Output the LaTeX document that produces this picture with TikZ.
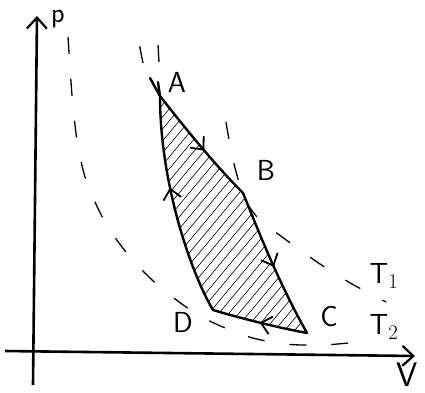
\documentclass[tikz,border=0pt]{standalone}
\usepackage{tikz}
\usetikzlibrary{positioning,calc}
\usetikzlibrary{arrows.meta,decorations.markings}
\tikzset{
  axis/.style={draw=black,line width=2.6pt,-{Straight Barb[length=11pt,width=20pt,line width=2.2pt]}},
  cyc/.style={draw=black,line width=2.4pt,line cap=round},
  iso/.style={draw=black,line width=1.3pt,dash pattern=on 17pt off 25pt},
  hatch/.style={draw=black,line width=0.6pt},
  lab/.style={inner sep=0pt,font=\sffamily\fontsize{29}{33}\selectfont},
  midarrow/.style={postaction={decorate,decoration={markings,
    mark=at position #1 with {\arrow{Straight Barb[length=10pt,width=18pt,line width=1.8pt]}}}}},
}
\begin{document}
\begin{tikzpicture}[x=1pt,y=-1pt]
\useasboundingbox (0,0) rectangle (425,392);
% axes
\coordinate (o1) at (33,385);
\coordinate (o2) at (37,16);
\coordinate (o3) at (5,351);
\coordinate (o4) at (415,356);
\draw[axis] (o1) -- (o2);
\draw[axis] (o3) -- (o4);
% corners of the cycle
\coordinate (A) at (160,96);
\coordinate (B) at (243,193);
\coordinate (C) at (307,333);
\coordinate (D) at (213,310);
\coordinate (a1) at (150,78);
\coordinate (a2) at (158,82);
% hatching
\begin{scope}
\clip (A) .. controls (185,128) and (215,165) .. (B)
  .. controls (262,240) and (280,285) .. (C)
  .. controls (275,327) and (240,318) .. (D)
  .. controls (192,275) and (160,185) .. (A) -- cycle;
\foreach \k in {0,...,40}
  \draw[hatch] (-100+10*\k,360) -- ++(280,-336);
\end{scope}
% cycle
\draw[cyc] (a1) -- (A);
\draw[cyc,midarrow=0.55] (A) .. controls (185,128) and (215,165) .. (B);
\draw[cyc,midarrow=0.52] (B) .. controls (262,240) and (280,285) .. (C);
\draw[cyc,midarrow=0.5] (C) .. controls (275,327) and (240,318) .. (D);
\draw[cyc,midarrow=0.55] (D) .. controls (192,275) and (160,185) .. (A) -- (a2);
% isotherms
\draw[iso] plot[smooth] coordinates {(68,37) (72,95) (77,140) (86,180) (105,222) (130,257) (160,287) (200,316) (246,336) (285,344) (323,345) (358,342)};
\draw[iso] plot[smooth] coordinates {(226,122) (233,160) (244,197) (258,218) (278,234) (320,264) (352,284) (386,302)};
\draw[iso] (143,63) -- (137,33);
\draw[iso] (159,62) -- (158,45);
% labels
\node[lab] (lA) at (177,82) {A};
\node[lab] (lB) at (266,170) {B};
\node[lab] (lC) at (329,317) {C};
\node[lab] (lD) at (183,322) {D};
\node[lab] (lT1) at (384,276) {T$_1$};
\node[lab] (lT2) at (384,327) {T$_2$};
\node[lab,font=\sffamily\fontsize{34}{38}\selectfont] (lV) at (407,375) {V};
\node[lab,font=\sffamily\fontsize{28}{32}\selectfont] (lp) at (58,19) {p};
\end{tikzpicture}
\end{document}
